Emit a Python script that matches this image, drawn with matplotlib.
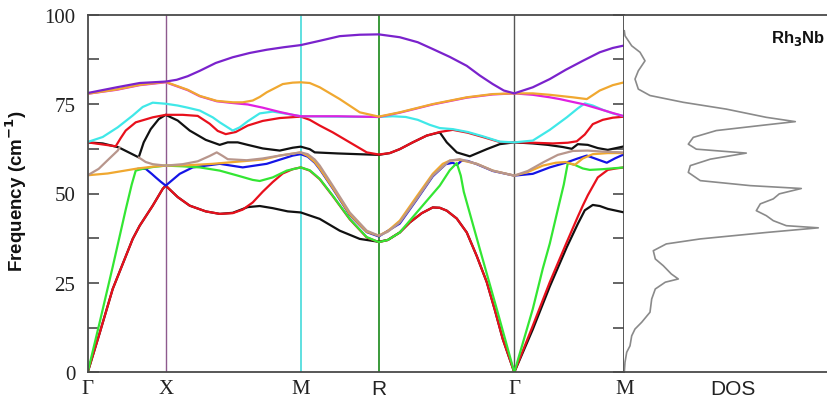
import numpy as np
import matplotlib
matplotlib.use("Agg")
import matplotlib.pyplot as plt

nan = np.nan
# high-symmetry points (path distance units)
kpts = [0, 78, 213, 291, 426.5, 536.5]
klabels = ["Γ", "X", "M", "R", "Γ", "M"]
yticks = [0, 25, 50, 75, 100]

purple_k = [0, 29, 52, 78, 89, 100, 112, 128, 145, 162, 179, 196, 213, 232, 252, 272, 291,
            312, 330, 345, 362, 379, 392, 405, 416, 426.5, 445, 462, 478, 495, 512, 525, 536.5]
purple_f = [78.1, 79.7, 80.9, 81.3, 81.8, 82.8, 84.3, 86.5, 88.1, 89.3, 90.2, 90.9, 91.5, 92.7, 94.0, 94.4, 94.5,
            93.7, 92.3, 90.4, 88.2, 85.7, 83.0, 80.6, 78.8, 78.0, 79.7, 82.0, 84.6, 87.1, 89.5, 90.7, 91.4]

orangeu_k = [0, 29, 52, 78, 90, 100, 112, 129, 145, 155, 165, 172, 179, 195, 205, 213, 222, 232, 252, 272, 291,
             312, 345, 379, 405, 426.5, 445, 462, 485, 499, 512, 525, 536.5]
orangeu_f = [77.9, 79.1, 80.4, 81.2, 80.0, 79.0, 77.3, 75.9, 75.5, 75.5, 76.0, 77.0, 78.3, 80.6, 81.0, 81.1, 80.9, 79.7, 76.4, 72.7, 71.5,
             72.7, 75.0, 76.9, 77.8, 78.0, 78.0, 77.6, 76.9, 76.4, 78.8, 80.3, 81.1]

magenta_k = [0, 29, 52, 78, 90, 100, 112, 129, 145, 160, 175, 192, 205, 213, 250, 291,
             312, 345, 379, 405, 426.5, 445, 462, 472, 485, 495, 512, 525, 536.5]
magenta_f = [77.9, 79.0, 80.3, 81.1, 79.9, 78.9, 77.2, 75.8, 75.3, 74.9, 74.0, 72.8, 72.0, 71.6, 71.6, 71.4,
             72.6, 74.9, 76.8, 77.7, 78.0, 77.6, 76.9, 76.4, 75.6, 75.0, 73.6, 72.5, 71.6]

cyan_k = [0, 15, 30, 45, 55, 65, 78, 90, 100, 112, 125, 132, 145, 152, 160, 172, 185, 192, 205, 213, 250, 291,
          305, 318, 330, 342, 352, 365, 380, 395, 412, 426.5, 445, 462, 479, 490, 497, 505, 515, 525, 536.5]
cyan_f = [64.4, 65.8, 68.5, 71.8, 74.2, 75.4, 75.1, 74.6, 74.0, 73.2, 71.3, 69.9, 67.6, 68.5, 70.2, 72.4, 72.9, 72.6, 72.0, 71.6, 71.5, 71.4,
          71.6, 71.4, 70.6, 69.2, 68.3, 68.0, 67.2, 66.0, 64.5, 64.3, 64.8, 67.8, 71.3, 73.8, 75.2, 74.6, 73.4, 72.4, 71.6]

redo_k = [0, 18, 28, 33, 38, 48, 65, 78, 95, 110, 122, 130, 138, 148, 160, 175, 192, 213, 222, 232, 245, 262, 279, 291,
          302, 312, 325, 339, 352, 365, 380, 395, 412, 426.5, 445, 465, 480, 489, 497, 505, 515, 525, 536.5]
redo_f = [64.3, 63.6, 63.2, 65.5, 67.6, 69.9, 71.3, 72.0, 72.0, 71.7, 69.5, 67.5, 66.6, 67.2, 69.0, 70.3, 71.1, 71.5, 70.6, 69.0, 67.1, 64.3, 61.5, 60.9,
          61.3, 62.4, 64.3, 66.2, 67.2, 67.8, 67.0, 65.8, 64.4, 64.3, 64.2, 64.0, 64.2, 64.6, 66.5, 69.4, 70.6, 71.2, 71.5]

blacko_k = [0, 15, 31, 41, 51, 56, 63, 71, 78, 90, 102, 118, 132, 140, 150, 160, 175, 192, 205, 213, 222, 227, 250, 270, 291,
            302, 312, 325, 339, 352, 359, 369, 382, 399, 412, 426.5, 445, 460, 475, 484, 490, 500, 510, 520, 530, 536.5]
blacko_f = [64.3, 64.0, 62.9, 61.5, 60.1, 64.3, 68.0, 70.8, 72.0, 70.4, 67.6, 65.0, 63.6, 64.3, 64.3, 63.6, 62.6, 62.0, 62.8, 63.1, 62.4, 61.5, 61.2, 61.0, 60.8,
            61.3, 62.4, 64.3, 66.2, 67.1, 64.3, 61.5, 60.4, 62.4, 63.8, 64.3, 64.0, 63.6, 63.0, 62.5, 63.8, 63.6, 62.7, 62.2, 62.8, 63.2]

brown_k = [0, 11, 21, 30, 32, 41, 51, 58, 65, 78, 95, 110, 122, 129, 135, 140, 159, 175, 192, 213, 220, 227, 232, 245, 262, 279, 291,
           300, 312, 329, 345, 362, 372, 389, 405, 426.5, 440, 456, 470, 485, 500, 515, 536.5]
brown_f = [55.1, 56.9, 59.6, 62.0, 62.9, nan, 60.1, 58.8, 58.2, 57.8, 58.2, 59.0, 60.5, 61.5, 60.5, 59.6, 59.3, 59.8, 60.6, 61.5, 61.0, 59.5, 57.8, 52.2, 44.7, 39.6, 38.2,
           39.3, 41.9, 48.5, 55.0, 59.2, 59.6, 58.3, 56.4, 55.0, 56.3, 58.8, 60.8, 61.9, 62.0, 61.7, 61.5]

orangel_k = [0, 20, 35, 50, 65, 78, 100, 125, 150, 175, 192, 213, 220, 227, 232, 245, 262, 279, 291,
             300, 312, 329, 345, 355, 362, 372, 389, 405, 426.5, 440, 455, 468, 478, 487, 495, 505, 520, 536.5]
orangel_f = [55.1, 55.6, 56.3, 57.0, 57.5, 57.8, 57.9, 58.3, 58.9, 59.5, 60.6, 61.5, 60.5, 58.8, 57.0, 51.6, 44.2, 39.3, 38.2,
             39.5, 42.4, 49.2, 55.5, 58.3, 59.2, 59.4, 58.3, 56.4, 55.0, 56.0, 57.8, 58.6, 58.8, 58.0, 59.8, 61.0, 61.3, 61.3]

blue_k = [50, 58, 64, 68, 73, 78, 92, 105, 132, 155, 179, 205, 213, 220, 227, 232, 245, 262, 279, 291,
          312, 329, 345, 358, 365, 369, 374, 380, 389, 405, 426.5, 445, 462, 478, 490, 499, 510, 519, 527, 536.5]
blue_f = [56.9, 56.9, 55.5, 54.5, 53.3, 52.2, 55.5, 57.3, 58.3, 57.3, 58.3, 60.6, 61.0, 60.3, 58.6, 56.8, 51.4, 44.0, 39.2, 38.0,
          41.6, 48.3, 54.8, 58.2, 58.6, 58.0, 59.2, 59.1, 58.2, 56.3, 55.0, 55.5, 57.3, 58.6, 59.8, 60.6, 59.5, 58.6, 59.8, 61.0]

green_k = [0, 12, 25, 38, 44, 48, 55, 65, 78, 95, 112, 132, 150, 165, 172, 185, 199, 213, 222, 232, 245, 262, 279, 291,
           300, 312, 329, 352, 362, 369, 373, 376, 392, 409, 426.5, 445, 455, 462, 470, 476, 480, 487, 495, 502, 515, 536.5]
green_f = [0, 14.0, 29.5, 45.5, 52.5, 56.4, 56.9, 57.4, 57.8, 57.6, 57.3, 56.4, 55.0, 53.8, 53.5, 54.5, 56.4, 57.3, 56.5, 54.1, 49.4, 42.9, 37.8, 36.4,
           37.0, 39.1, 44.7, 52.2, 56.5, 58.5, 55.0, 50.5, 34.5, 17.7, 0, 17.7, 29.0, 36.0, 45.5, 52.5, 58.5, 58.0, 57.0, 56.6, 56.8, 57.3]

redta_k = [0, 12, 25, 45, 52, 65, 75, 78, 90, 102, 118, 132, 145, 155, 165, 175, 185, 195, 205, 213,
           222, 232, 245, 262, 279, 291, 300, 312, 322, 334, 345, 352, 359, 369, 379, 389, 399, 407, 415, 426.5,
           445, 462, 479, 490, 495, 500, 510, 520, 528, 536.5]
redta_f = [0, 11.0, 23.3, 37.3, 41.0, 46.6, 51.3, 52.2, 49.0, 46.6, 45.0, 44.3, 44.5, 45.5, 47.5, 50.5, 53.2, 55.6, 56.8, 57.3,
           56.4, 54.0, 49.3, 42.8, 37.7, 36.4, 37.0, 39.1, 41.9, 44.5, 46.1, 46.0, 45.2, 43.0, 39.1, 32.5, 25.2, 17.5, 9.3, 0,
           13.0, 25.2, 36.4, 43.5, 46.6, 49.5, 54.5, 56.6, 57.0, 57.3]

blackta_k = [0, 12, 25, 45, 52, 65, 75, 78, 90, 102, 118, 132, 145, 160, 172, 185, 200, 213, 232, 252, 272, 291,
             300, 312, 322, 334, 345, 352, 359, 369, 379, 389, 399, 407, 415, 426.5,
             445, 462, 479, 490, 497, 505, 512, 520, 536.5]
blackta_f = [0, 11.0, 23.3, 37.3, 41.0, 46.6, 51.3, 52.2, 49.0, 46.6, 45.0, 44.3, 44.6, 46.2, 46.5, 45.9, 45.0, 44.7, 42.9, 39.6, 37.3, 36.5,
             37.0, 39.1, 41.9, 44.5, 46.1, 46.0, 45.2, 43.0, 39.1, 32.5, 25.2, 17.5, 9.3, 0,
             12.0, 24.0, 35.0, 41.5, 45.3, 46.8, 46.5, 45.7, 44.7]

# phonon DOS (frequency, DOS in arbitrary units)
dos_f = [95.5, 94.1, 91.3, 89.5, 87.1, 84.3, 82.0, 79.2, 77.4, 75.5, 73.6, 71.3, 70.1, 69.2, 67.6, 65.7, 63.8, 62.4,
         61.3, 59.6, 57.8, 55.9, 53.6, 52.2, 51.4, 49.9, 48.5, 47.1, 45.2, 43.8, 42.4, 41.0, 40.4, 39.1, 37.3, 35.9,
         34.0, 31.7, 29.8, 27.5, 26.1, 25.2, 23.3, 20.5, 16.8, 14.0, 12.1, 10.2, 7.4, 5.6, 2.8, 0]
dos_v = [0, 0.7, 7.4, 15.7, 20.7, 14.0, 10.7, 14.0, 25.7, 59, 102, 142, 171, 142, 92, 69, 64, 72,
         122, 86, 66, 64, 76, 126, 177, 155, 149, 136, 132, 142, 149, 162, 194, 142, 76, 42,
         29, 31, 39, 47, 54, 41, 31, 27.4, 25.7, 17.4, 10.7, 7.4, 5.7, 2.4, 0.7, 0]

series = [
    (blackta_k, blackta_f, "#111111"),
    (blacko_k, blacko_f, "#111111"),
    (redta_k, redta_f, "#e8101c"),
    (redo_k, redo_f, "#e8101c"),
    (blue_k, blue_f, "#1414e6"),
    (green_k, green_f, "#33e633"),
    (orangel_k, orangel_f, "#f0a830"),
    (brown_k, brown_f, "#b8968c"),
    (cyan_k, cyan_f, "#40e8e8"),
    (magenta_k, magenta_f, "#e020e0"),
    (orangeu_k, orangeu_f, "#f0a830"),
    (purple_k, purple_f, "#7a22cc"),
]

W, H = 828, 406
fig = plt.figure(figsize=(W / 100, H / 100), dpi=100)
x0, x1, x2 = 87.7, 624.3, 828.0
ytop, ybot = 15.7, 373.3
ax = fig.add_axes([x0 / W, 1 - ybot / H, (x1 - x0) / W, (ybot - ytop) / H])
ax2 = fig.add_axes([x1 / W, 1 - ybot / H, (x2 - x1) / W, (ybot - ytop) / H])

spc = "#4a4a4a"
vcols = {1: ("#8e5a8e", 1.0), 2: ("#5fe0e0", 1.4), 3: ("#3a9a3a", 1.4), 4: ("#555555", 1.0)}
for i, (c, lw) in vcols.items():
    ax.axvline(kpts[i], color=c, lw=lw, zorder=1)

for k, f, c in series:
    ax.plot(k, f, color=c, lw=1.6, zorder=2, solid_capstyle="round", solid_joinstyle="round")

ax.set_xlim(kpts[0], kpts[-1])
ax.set_ylim(0, 100)
ax.set_xticks(kpts)
ax.set_xticklabels(klabels)
ax.tick_params(axis="x", length=0, pad=5, labelsize=15)
for lab in ax.get_xticklabels():
    if lab.get_text() == "R":
        lab.set_fontfamily("Liberation Sans")
    else:
        lab.set_fontfamily("Liberation Serif")
    lab.set_color("#222222")
ax.set_yticks(yticks)
ax.set_yticks([12.5, 37.5, 62.5, 87.5], minor=True)
ax.tick_params(axis="y", which="both", direction="in", length=8, width=1.2,
               color=spc, left=True, right=True, pad=9, labelsize=15)
for lab in ax.get_yticklabels():
    lab.set_fontfamily("Liberation Serif")
    lab.set_color("#222222")
for s in ax.spines.values():
    s.set_color(spc)
    s.set_linewidth(1.3)
ax.set_ylabel("Frequency (cm$^{\\mathbf{-1}}$)", fontsize=13.5, fontweight="bold",
              family="Liberation Sans", color="#111111")
ax.yaxis.set_label_coords(-0.11, 0.51)

ax2.plot(dos_v, dos_f, color="#8a8a8a", lw=1.2)
ax2.set_xlim(0, x2 - x1)
ax2.set_ylim(0, 100)
ax2.set_yticks([])
ax2.set_xticks([109])
ax2.set_xticklabels(["DOS"])
ax2.tick_params(axis="x", length=0, pad=5, labelsize=15)
for lab in ax2.get_xticklabels():
    lab.set_fontfamily("Liberation Sans")
    lab.set_color("#222222")
ax2.spines["left"].set_visible(False)
ax2.spines["right"].set_visible(False)
for s in ("top", "bottom"):
    ax2.spines[s].set_color(spc)
    ax2.spines[s].set_linewidth(1.3)
ax2.text(0.985, 0.935, "Rh$_\\mathbf{3}$Nb", transform=ax2.transAxes, ha="right", va="center",
         fontsize=12, fontweight="bold", family="Liberation Sans", color="#111111")

fig.savefig("out.png", dpi=100)
